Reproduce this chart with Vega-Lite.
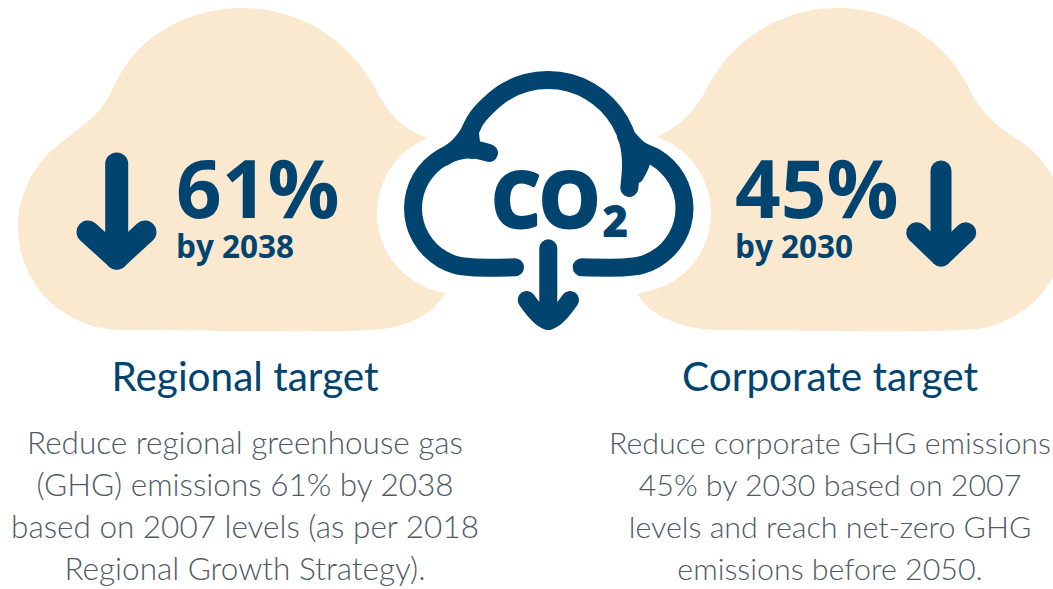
{"$schema":"https://vega.github.io/schema/vega-lite/v6.json","width":1053,"height":589,"autosize":"none","padding":0,"background":"white","view":{"stroke":null},
"datasets":{
"clouds":[
{"c":"L","x":121,"y":330},{"c":"L","x":94.3,"y":326.5},{"c":"L","x":69.5,"y":316},{"c":"L","x":48,"y":300},{"c":"L","x":32,"y":278.5},{"c":"L","x":21.5,"y":253.7},{"c":"L","x":18,"y":227},{"c":"L","x":21.5,"y":200},{"c":"L","x":32,"y":175.5},{"c":"L","x":48,"y":154},{"c":"L","x":62,"y":142},{"c":"L","x":75,"y":131.5},{"c":"L","x":93,"y":117},{"c":"L","x":106,"y":101},{"c":"L","x":116,"y":82},{"c":"L","x":128,"y":62},{"c":"L","x":145.6,"y":43},{"c":"L","x":167,"y":28},{"c":"L","x":190.7,"y":17},{"c":"L","x":216,"y":10.3},{"c":"L","x":242,"y":8},{"c":"L","x":268,"y":10.3},{"c":"L","x":293.3,"y":17},{"c":"L","x":317,"y":28},{"c":"L","x":338.4,"y":43},{"c":"L","x":357,"y":61.6},{"c":"L","x":372,"y":83},{"c":"L","x":380,"y":97},{"c":"L","x":391,"y":113},{"c":"L","x":407,"y":128},{"c":"L","x":427,"y":138},{"c":"L","x":427,"y":138},{"c":"L","x":417.5,"y":142.9},{"c":"L","x":405.9,"y":151},{"c":"L","x":396,"y":161},{"c":"L","x":387.9,"y":172.5},{"c":"L","x":381.9,"y":185.3},{"c":"L","x":378.2,"y":199},{"c":"L","x":377,"y":213},{"c":"L","x":378.2,"y":227},{"c":"L","x":381.9,"y":240.7},{"c":"L","x":387.9,"y":253.5},{"c":"L","x":396,"y":265},{"c":"L","x":405.9,"y":275},{"c":"L","x":417.5,"y":283},{"c":"L","x":430.3,"y":289},{"c":"L","x":446,"y":293},{"c":"L","x":446,"y":293},{"c":"L","x":433,"y":308},{"c":"L","x":415,"y":320},{"c":"L","x":394,"y":327},{"c":"L","x":372,"y":330},{"c":"L","x":121,"y":330},
{"c":"R","x":712,"y":330},{"c":"R","x":690,"y":327},{"c":"R","x":669,"y":320},{"c":"R","x":650,"y":309},{"c":"R","x":637,"y":294},{"c":"R","x":637,"y":294},{"c":"R","x":658,"y":288.6},{"c":"R","x":670.8,"y":282.7},{"c":"R","x":682.2,"y":274.7},{"c":"R","x":692.2,"y":264.7},{"c":"R","x":700.2,"y":253.3},{"c":"R","x":706.1,"y":240.5},{"c":"R","x":709.8,"y":227},{"c":"R","x":711,"y":213},{"c":"R","x":709.8,"y":199},{"c":"R","x":706.1,"y":185.5},{"c":"R","x":700.2,"y":172.8},{"c":"R","x":692.2,"y":161.3},{"c":"R","x":682.2,"y":151.3},{"c":"R","x":670.8,"y":143.3},{"c":"R","x":657,"y":137},{"c":"R","x":657,"y":137},{"c":"R","x":673,"y":128},{"c":"R","x":690,"y":113},{"c":"R","x":702,"y":97},{"c":"R","x":711,"y":81},{"c":"R","x":724.6,"y":60.9},{"c":"R","x":742.9,"y":42.6},{"c":"R","x":764,"y":27.8},{"c":"R","x":787.4,"y":16.9},{"c":"R","x":812.3,"y":10.2},{"c":"R","x":838,"y":8},{"c":"R","x":863.7,"y":10.2},{"c":"R","x":888.6,"y":16.9},{"c":"R","x":912,"y":27.8},{"c":"R","x":933.1,"y":42.6},{"c":"R","x":951.4,"y":60.9},{"c":"R","x":965,"y":81},{"c":"R","x":974,"y":98},{"c":"R","x":988,"y":116},{"c":"R","x":1006.5,"y":132},{"c":"R","x":1022,"y":142},{"c":"R","x":1035.8,"y":154},{"c":"R","x":1052,"y":175.5},{"c":"R","x":1062.5,"y":200},{"c":"R","x":1066,"y":227},{"c":"R","x":1062.5,"y":253.7},{"c":"R","x":1052,"y":278.5},{"c":"R","x":1035.8,"y":300},{"c":"R","x":1014.5,"y":316},{"c":"R","x":989.7,"y":326.5},{"c":"R","x":963,"y":330},{"c":"R","x":712,"y":330}
],
"strokes":[
{"g":"a","x":515,"y":267.3},{"g":"a","x":472,"y":267.3},{"g":"a","x":456.7,"y":265.3},{"g":"a","x":442.5,"y":259.4},{"g":"a","x":430.3,"y":250},{"g":"a","x":420.9,"y":237.8},{"g":"a","x":415,"y":223.6},{"g":"a","x":413,"y":208.3},{"g":"a","x":415,"y":193},{"g":"a","x":420.9,"y":178.8},{"g":"a","x":430.3,"y":166.6},{"g":"a","x":442.5,"y":157.2},{"g":"a","x":456.7,"y":151.3},{"g":"a","x":472,"y":149.3},{"g":"a","x":489,"y":153},
{"g":"b","x":444,"y":157},{"g":"b","x":458,"y":147},{"g":"b","x":468,"y":134.6},{"g":"b","x":476.1,"y":119},{"g":"b","x":489.3,"y":104.3},{"g":"b","x":506.5,"y":91.1},{"g":"b","x":526.5,"y":82.8},{"g":"b","x":548,"y":80},{"g":"b","x":569.5,"y":82.8},{"g":"b","x":589.5,"y":91.1},{"g":"b","x":606.7,"y":104.3},{"g":"b","x":619.9,"y":121.5},{"g":"b","x":628.2,"y":141.5},{"g":"b","x":631,"y":163},{"g":"b","x":629.3,"y":188},
{"g":"c","x":626,"y":136},{"g":"c","x":640,"y":150},{"g":"c","x":655,"y":157.2},{"g":"c","x":667.2,"y":166.6},{"g":"c","x":676.6,"y":178.8},{"g":"c","x":682.5,"y":193},{"g":"c","x":684.5,"y":208.3},{"g":"c","x":682.5,"y":223.6},{"g":"c","x":676.6,"y":237.8},{"g":"c","x":667.2,"y":250},{"g":"c","x":655,"y":259.4},{"g":"c","x":640.8,"y":265.3},{"g":"c","x":625.5,"y":267.3},{"g":"c","x":581.7,"y":267.3},
{"g":"d","x":548.3,"y":248.3},{"g":"d","x":548.3,"y":321},
{"g":"e","x":526.7,"y":300},{"g":"e","x":548.3,"y":321},{"g":"e","x":570,"y":300},
{"g":"f","x":470,"y":134},{"g":"f","x":472,"y":150},
{"g":"w","x":633,"y":150},{"g":"w","x":642,"y":157},{"g":"w","x":635,"y":175}
],
"arrowL":[{"g":"s","x":116.7,"y":164},{"g":"s","x":116.7,"y":258},{"g":"h","x":88,"y":232},{"g":"h","x":116.7,"y":258},{"g":"h","x":145,"y":232}],
"arrowR":[{"g":"s","x":941,"y":171},{"g":"s","x":941,"y":256},{"g":"h","x":916.7,"y":232.7},{"g":"h","x":941,"y":256},{"g":"h","x":965.7,"y":232.7}],
"big":[{"x":176,"y":218,"t":"61%"},{"x":735,"y":218,"t":"45%"}],
"by":[{"x":176,"y":258,"t":"by 2038"},{"x":735,"y":258,"t":"by 2030"}],
"co":[{"x":492,"y":227,"t":"CO"}],
"sub":[{"x":603,"y":236,"t":"2"}],
"heads":[{"x":245,"y":391,"t":"Regional target"},{"x":830,"y":391,"t":"Corporate target"}],
"bodyL":[
{"x":245,"y":454,"t":"Reduce regional greenhouse gas"},{"x":245,"y":496,"t":"(GHG) emissions 61% by 2038"},{"x":245,"y":538,"t":"based on 2007 levels (as per 2018"},{"x":245,"y":580,"t":"Regional Growth Strategy)."}],
"bodyR":[
{"x":830,"y":454,"t":"Reduce corporate GHG emissions"},{"x":830,"y":496,"t":"45% by 2030 based on 2007"},{"x":830,"y":538,"t":"levels and reach net-zero GHG"},{"x":830,"y":580,"t":"emissions before 2050."}
]},
"encoding":{
"x":{"field":"x","type":"quantitative","scale":{"domain":[0,1053],"nice":false,"zero":false},"axis":null},
"y":{"field":"y","type":"quantitative","scale":{"domain":[589,0],"nice":false,"zero":false},"axis":null}
},
"layer":[
{"data":{"name":"clouds"},"mark":{"type":"line","fill":"#fae8cf","stroke":"#fae8cf","strokeWidth":0,"clip":true,"interpolate":"catmull-rom"},"encoding":{"detail":{"field":"c"},"order":{"value":null}}},
{"data":{"name":"strokes"},"mark":{"type":"line","stroke":"#00446f","strokeWidth":18,"strokeCap":"round","strokeJoin":"round","interpolate":"catmull-rom"},"encoding":{"detail":{"field":"g"},"order":{"value":null}}},
{"data":{"name":"arrowL"},"mark":{"type":"line","stroke":"#00446f","strokeWidth":23,"strokeCap":"round","strokeJoin":"round"},"encoding":{"detail":{"field":"g"},"order":{"value":null}}},
{"data":{"name":"arrowR"},"mark":{"type":"line","stroke":"#00446f","strokeWidth":21,"strokeCap":"round","strokeJoin":"round"},"encoding":{"detail":{"field":"g"},"order":{"value":null}}},
{"data":{"name":"big"},"mark":{"type":"text","font":"Open Sans","fontWeight":"bold","fontSize":80,"align":"left","baseline":"alphabetic","color":"#00446f"},"encoding":{"text":{"field":"t"}}},
{"data":{"name":"by"},"mark":{"type":"text","font":"Open Sans","fontWeight":"bold","fontSize":31.5,"align":"left","baseline":"alphabetic","color":"#00446f"},"encoding":{"text":{"field":"t"}}},
{"data":{"name":"co"},"mark":{"type":"text","font":"Open Sans","fontWeight":"bold","fontSize":75,"align":"left","baseline":"alphabetic","color":"#00446f","stroke":"#00446f","strokeWidth":4,"strokeJoin":"round"},"encoding":{"text":{"field":"t"}}},
{"data":{"name":"sub"},"mark":{"type":"text","font":"Open Sans","fontWeight":"bold","fontSize":42,"align":"left","baseline":"alphabetic","color":"#00446f","stroke":"#00446f","strokeWidth":2,"strokeJoin":"round"},"encoding":{"text":{"field":"t"}}},
{"data":{"name":"heads"},"mark":{"type":"text","font":"Lato","fontSize":40.5,"align":"center","baseline":"alphabetic","color":"#00446f"},"encoding":{"text":{"field":"t"}}},
{"data":{"name":"bodyL"},"mark":{"type":"text","font":"Lato","fontWeight":300,"fontSize":31.5,"align":"center","baseline":"alphabetic","color":"#4f5a66"},"encoding":{"text":{"field":"t"}}},
{"data":{"name":"bodyR"},"mark":{"type":"text","font":"Lato","fontWeight":300,"fontSize":30.4,"align":"center","baseline":"alphabetic","color":"#4f5a66"},"encoding":{"text":{"field":"t"}}}
]}
